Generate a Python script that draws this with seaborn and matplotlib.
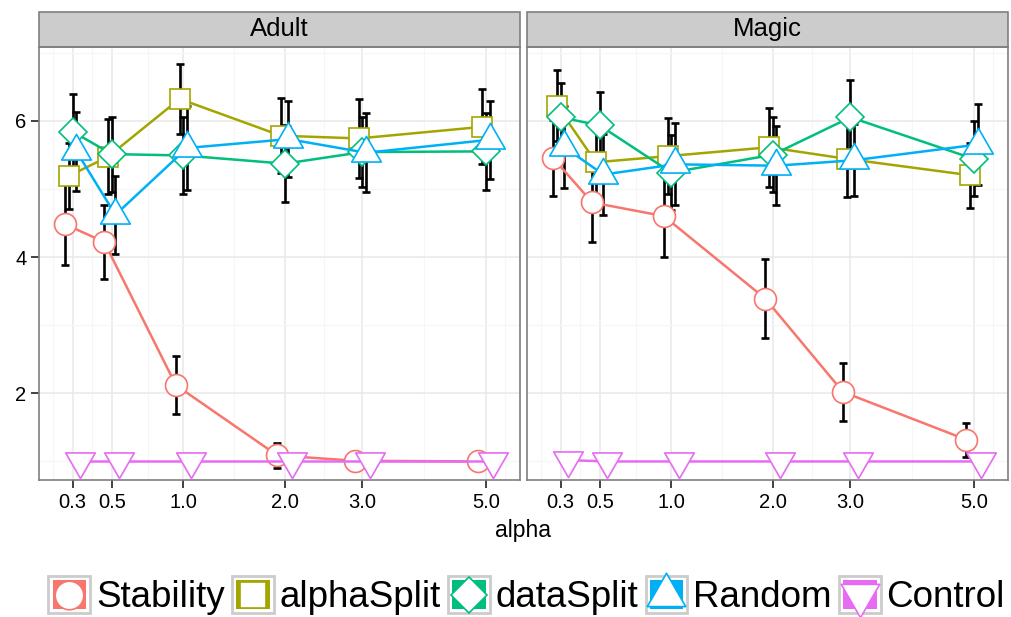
import numpy as np
import pandas as pd
import seaborn as sns
import matplotlib.pyplot as plt
from matplotlib.path import Path
from matplotlib.patches import Rectangle
from matplotlib.lines import Line2D

alphas = [0.3, 0.5, 1.0, 2.0, 3.0, 5.0]
alpha_labels = ['0.3', '0.5', '1.0', '2.0', '3.0', '5.0']
methods = ['Stability', 'alphaSplit', 'dataSplit', 'Random', 'Control']
panels = ['Adult', 'Magic']
colors = ['#F8766D', '#A3A500', '#00BF7D', '#00B0F6', '#E76BF3']

adult_stability = [4.48, 4.22, 2.12, 1.09, 1.01, 1.00]
adult_stability_sd = [0.59, 0.54, 0.43, 0.18, 0.03, 0.02]
adult_alphasplit = [5.19, 5.47, 6.32, 5.78, 5.74, 5.91]
adult_alphasplit_sd = [0.48, 0.55, 0.51, 0.55, 0.58, 0.55]
adult_datasplit = [5.84, 5.51, 5.49, 5.37, 5.54, 5.55]
adult_datasplit_sd = [0.55, 0.55, 0.56, 0.56, 0.51, 0.57]
adult_random = [5.55, 4.62, 5.60, 5.73, 5.53, 5.72]
adult_random_sd = [0.58, 0.57, 0.62, 0.56, 0.58, 0.57]
adult_control = [1.0, 1.0, 1.0, 1.0, 1.0, 1.0]
adult_control_sd = [0, 0, 0, 0, 0, 0]

magic_stability = [5.45, 4.80, 4.60, 3.39, 2.02, 1.32]
magic_stability_sd = [0.56, 0.58, 0.60, 0.58, 0.43, 0.25]
magic_alphasplit = [6.22, 5.39, 5.48, 5.61, 5.44, 5.20]
magic_alphasplit_sd = [0.52, 0.55, 0.56, 0.58, 0.56, 0.48]
magic_datasplit = [6.05, 5.93, 5.24, 5.50, 6.05, 5.44]
magic_datasplit_sd = [0.50, 0.49, 0.55, 0.55, 0.55, 0.55]
magic_random = [5.61, 5.21, 5.36, 5.34, 5.42, 5.65]
magic_random_sd = [0.60, 0.59, 0.60, 0.58, 0.53, 0.60]
magic_control = [1.02, 1.0, 1.0, 1.0, 1.0, 1.0]
magic_control_sd = [0, 0, 0, 0, 0, 0]

series = {
    ('Adult', 'Stability'): (adult_stability, adult_stability_sd),
    ('Adult', 'alphaSplit'): (adult_alphasplit, adult_alphasplit_sd),
    ('Adult', 'dataSplit'): (adult_datasplit, adult_datasplit_sd),
    ('Adult', 'Random'): (adult_random, adult_random_sd),
    ('Adult', 'Control'): (adult_control, adult_control_sd),
    ('Magic', 'Stability'): (magic_stability, magic_stability_sd),
    ('Magic', 'alphaSplit'): (magic_alphasplit, magic_alphasplit_sd),
    ('Magic', 'dataSplit'): (magic_datasplit, magic_datasplit_sd),
    ('Magic', 'Random'): (magic_random, magic_random_sd),
    ('Magic', 'Control'): (magic_control, magic_control_sd),
}

rows = []
for (panel, method), (vals, sds) in series.items():
    for a, v, s in zip(alphas, vals, sds):
        rows.append(dict(panel=panel, method=method, alpha=a, value=v, sd=s))
df = pd.DataFrame(rows)

# dodge the groups a little, in sqrt space like ggplot does
step = 0.0153
offset = df['method'].map({m: (i - 2) * step for i, m in enumerate(methods)})
df['x'] = (np.sqrt(df['alpha']) + offset) ** 2

# R style triangles (centroid at the data point)
tri_up = Path([(0, 1.555), (-1.347, -0.778), (1.347, -0.778), (0, 1.555)], closed=True)
tri_down = Path([(0, -1.555), (-1.347, 0.778), (1.347, 0.778), (0, -1.555)], closed=True)
marker_map = {'Stability': 'o', 'alphaSplit': 's', 'dataSplit': 'D', 'Random': tri_up, 'Control': tri_down}
marker_size = {'Stability': 15.8, 'alphaSplit': 14.0, 'dataSplit': 14.0, 'Random': 24.6, 'Control': 24.6}
palette = dict(zip(methods, colors))

sns.set_style('white')
plt.rcParams['font.family'] = ['Liberation Sans', 'DejaVu Sans']
plt.rcParams['text.color'] = 'black'

fig = plt.figure(figsize=(10.11, 6.17), dpi=100)
W, H = 1011, 617
ax_a = fig.add_axes([39 / W, 137 / H, 480.5 / W, 433.3 / H])
ax_m = fig.add_axes([527 / W, 137 / H, 480.5 / W, 433.3 / H])

sq = np.sqrt(alphas)
pad_x = 0.1377
minor_edges = np.concatenate([[sq[0] - (sq[1] - sq[0])], sq, [sq[-1] + (sq[1] - sq[0])]])
minor_x = ((minor_edges[:-1] + minor_edges[1:]) / 2) ** 2

for ax, panel in zip([ax_a, ax_m], panels):
    sub = df[df['panel'] == panel]
    ax.errorbar(sub['x'], sub['value'], yerr=sub['sd'], fmt='none', ecolor='black',
                elinewidth=1.9, capsize=3.2, capthick=1.9, zorder=2)
    n0 = len(ax.lines)
    sns.lineplot(data=sub, x='x', y='value', hue='method', style='method',
                 hue_order=methods, style_order=methods, palette=palette,
                 markers=marker_map, dashes=False, linewidth=1.8,
                 markerfacecolor='white', markeredgewidth=1.2,
                 estimator=None, errorbar=None, legend=False, ax=ax, zorder=3)
    for m, line in zip(methods, ax.lines[n0:]):
        line.set_markeredgecolor(palette[m])
        line.set_markersize(marker_size[m])

    ax.set_xscale('function', functions=(np.sqrt, np.square))
    ax.set_xlim((sq[0] - pad_x) ** 2, (sq[-1] + pad_x) ** 2)
    ax.set_ylim(0.728, 7.086)
    ax.set_xticks(alphas, alpha_labels)
    ax.set_xticks(minor_x, minor=True)
    ax.set_yticks([2, 4, 6], ['2', '4', '6'])
    ax.set_yticks([1, 3, 5, 7], minor=True)
    ax.grid(which='major', color='#e8e8e8', linewidth=1.1)
    ax.grid(which='minor', color='#f6f6f6', linewidth=0.8)
    ax.set_axisbelow(True)
    ax.tick_params(which='minor', length=0)
    ax.tick_params(which='major', length=6, width=1.2, color='#222222',
                   labelsize=14.5, labelcolor='black', pad=3,
                   bottom=True, left=True)
    for s in ax.spines.values():
        s.set_color('#7f7f7f')
        s.set_linewidth(1.2)
    ax.set_xlabel('')
    ax.set_ylabel('')

    strip_h = 35 / 433.3
    ax.add_patch(Rectangle((0, 1), 1, strip_h, transform=ax.transAxes, clip_on=False,
                           facecolor='#cccccc', edgecolor='#7f7f7f', linewidth=1.2))
    ax.text(0.5, 1 + strip_h / 2, panel, transform=ax.transAxes, ha='center',
            va='center', fontsize=18.5, color='black')

ax_m.tick_params(which='major', left=False, labelleft=False)

fig.text(0.517, 0.1394, 'alpha', ha='center', va='center', fontsize=16.5, color='black')


class KeyHandler:
    def __init__(self, color, marker, size):
        self.color = color
        self.marker = marker
        self.size = size

    def legend_artist(self, legend, orig_handle, fontsize, handlebox):
        x0, y0 = -handlebox.xdescent, -handlebox.ydescent
        w, h = handlebox.width, handlebox.height
        tr = handlebox.get_transform()
        box = Rectangle((x0, y0), w, h, facecolor='white', edgecolor='#cccccc',
                        linewidth=2, transform=tr)
        fill = Rectangle((x0 + 0.1 * w, y0 + 0.1 * h), 0.8 * w, 0.8 * h,
                         facecolor=self.color, edgecolor='none', transform=tr)
        mark = Line2D([x0 + w / 2], [y0 + h / 2], marker=self.marker, markersize=self.size,
                      markerfacecolor='white', markeredgecolor=self.color,
                      markeredgewidth=1.2, linestyle='none', transform=tr)
        for art in (box, fill, mark):
            handlebox.add_artist(art)
        return box


handles = [Line2D([], [], label=m) for m in methods]
hmap = {h: KeyHandler(palette[m], marker_map[m], marker_size[m] * 1.3)
        for h, m in zip(handles, methods)}
leg = fig.legend(handles, methods, handler_map=hmap, loc='center',
                 bbox_to_anchor=(0.5208, 0.0348), ncol=5, frameon=False, fontsize=26.5,
                 handlelength=1.14, handleheight=1.17, handletextpad=0.15,
                 columnspacing=0.2, borderpad=0, borderaxespad=0)
for t in leg.get_texts():
    t.set_color('black')

fig.savefig('out.png', dpi=100)
